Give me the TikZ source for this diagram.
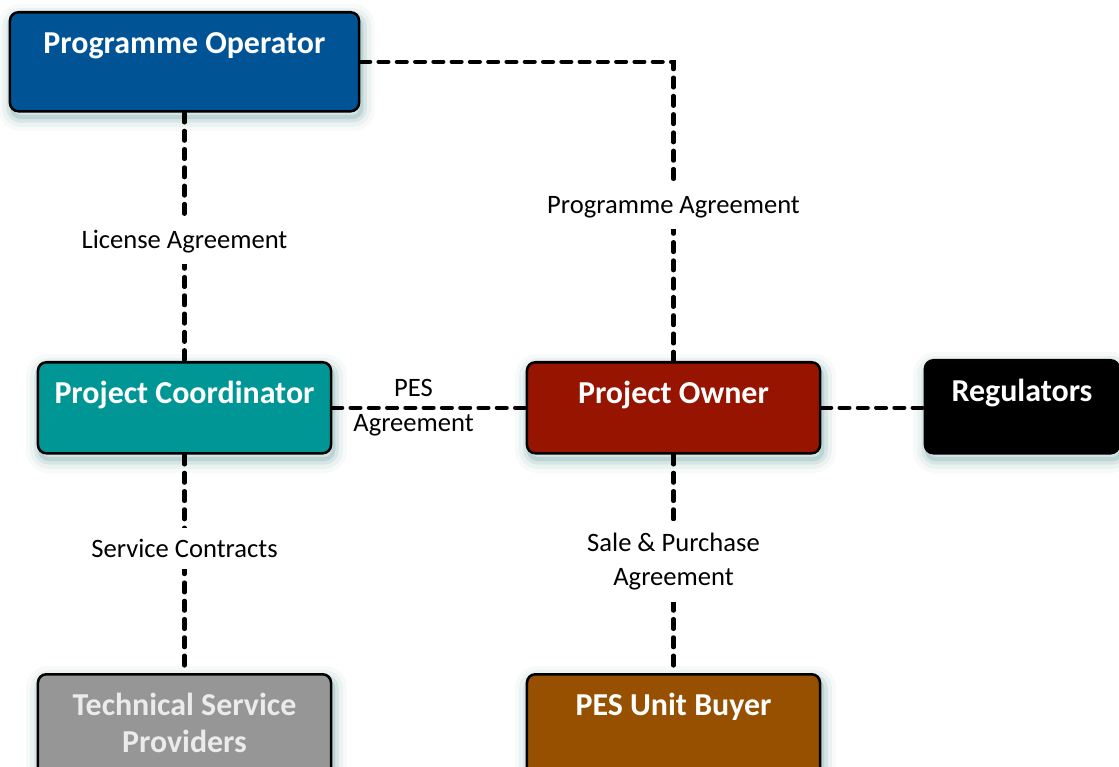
\documentclass[tikz,border=0pt]{standalone}
\usepackage{fontspec}
\setmainfont{Carlito}
\usepackage{tikz}
\usetikzlibrary{positioning}
\definecolor{opblue}{RGB}{0,84,150}
\definecolor{coordteal}{RGB}{0,150,150}
\definecolor{ownerred}{RGB}{150,20,0}
\definecolor{techgray}{RGB}{150,150,150}
\definecolor{buyerbrown}{RGB}{150,80,0}
\definecolor{glowc}{RGB}{70,135,135}

\begin{document}
\begin{tikzpicture}[
            x=0.025cm, y=-0.025cm,
            glow/.style={
              preaction={draw=glowc, draw opacity=0.04, line width=20pt, transform canvas={xshift=1.5pt, yshift=-4pt}},
              preaction={draw=glowc, draw opacity=0.07, line width=14pt, transform canvas={xshift=1.5pt, yshift=-4pt}},
              preaction={draw=glowc, draw opacity=0.12, line width=8pt, transform canvas={xshift=1.5pt, yshift=-4pt}},
              preaction={draw=glowc, draw opacity=0.18, line width=3pt, transform canvas={xshift=1.5pt, yshift=-4pt}}
            },
            box/.style={draw=black, line width=1.8pt, rounded corners=6pt, anchor=north,
              inner xsep=0pt, inner ysep=0pt, minimum width=7.325cm, text height=1.025cm,
              text=white, font=\bfseries\fontsize{22.7}{26.5}\selectfont, align=center, glow},
            link/.style={line width=3pt, line cap=round, dash pattern=on 7pt off 6pt},
            lbl/.style={fill=white, inner xsep=3pt, inner ysep=8pt, align=center, font=\fontsize{18.9}{24.8}\selectfont}
          ]

          \useasboundingbox (0,0) rectangle (1119,767);

          % Boxes
          \node[box, fill=opblue, minimum width=8.725cm, text depth=1.45cm] (operator) at (184.5,11) {Programme Operator};
          \node[box, fill=coordteal, text depth=1.25cm] (coord) at (184.5,361) {Project Coordinator};
          \node[box, fill=ownerred, text depth=1.25cm] (owner) at (673.5,361) {Project Owner};
          \node[box, fill=black, minimum width=4.85cm, text depth=1.3cm] (regul) at (1022,359) {Regulators};
          \node[box, fill=techgray, text=white!92!black, text height=1.95cm, text depth=1.3cm] (tech) at (184.5,673) {Technical Service\\Providers};
          \node[box, fill=buyerbrown, text depth=2.2cm] (buyer) at (673.5,673) {PES Unit Buyer};

          % Agreements
          \draw[link] (operator.east) -| node[lbl, pos=0.743] {Programme Agreement} (owner.north);
          \draw[link] (operator.south) -- node[lbl, pos=0.52] {License Agreement} (coord.north);
          \draw[link] (coord.east) -- node[lbl, fill=none, inner ysep=0pt, pos=0.42] {PES\\Agreement} (owner.west);
          \draw[link] (owner.east) -- (owner.east -| regul.west);
          \draw[link] (coord.south) -- node[lbl, pos=0.43] {Service Contracts} (tech.north);
          \draw[link] (owner.south) -- node[lbl, pos=0.49] {Sale \& Purchase\\Agreement} (buyer.north);

        \end{tikzpicture}
\end{document}
